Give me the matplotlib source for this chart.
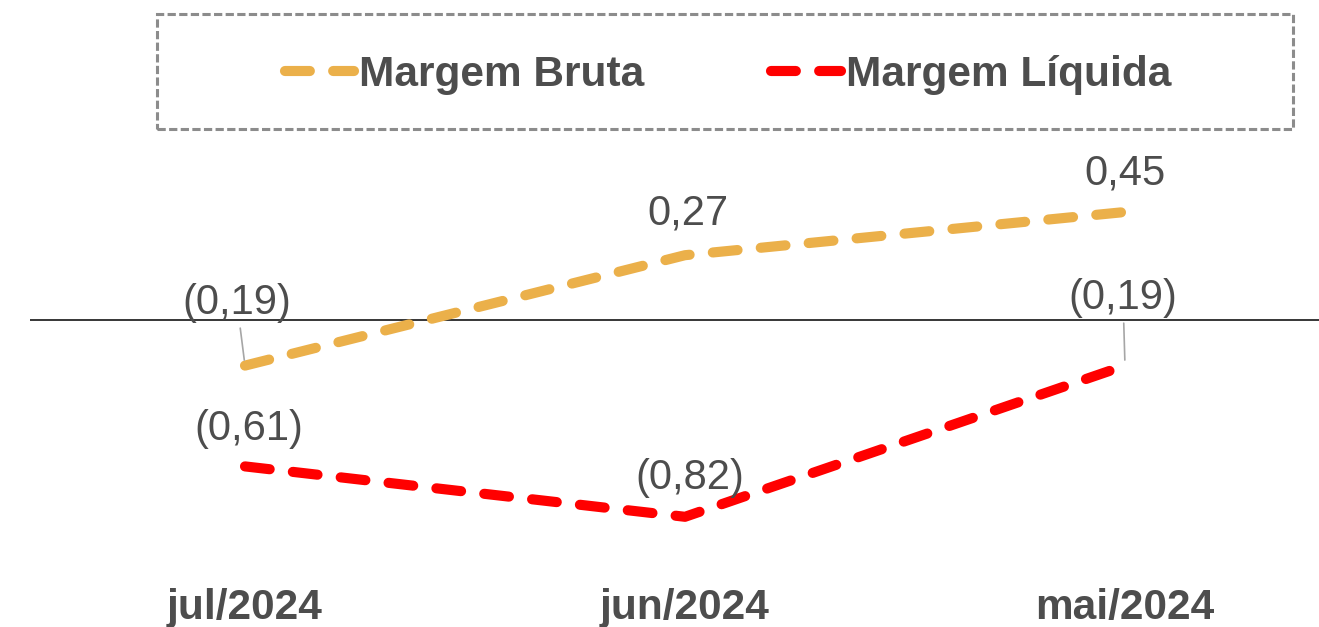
import matplotlib
matplotlib.use("Agg")
import matplotlib.pyplot as plt
from matplotlib.patches import Rectangle

plt.rcParams['font.family'] = ['Liberation Sans', 'DejaVu Sans']

# dados
meses = ['jul/2024', 'jun/2024', 'mai/2024']
margem_bruta = [-0.19, 0.27, 0.45]
margem_liquida = [-0.61, -0.82, -0.19]
rotulos_bruta = ['(0,19)', '0,27', '0,45']
rotulos_liquida = ['(0,61)', '(0,82)', '(0,19)']

COR_BRUTA = '#EBB04A'
COR_LIQ = '#FF0000'
COR_TEXTO = '#4D4D4D'

W, H = 1319, 627
fig = plt.figure(figsize=(W / 100, H / 100), dpi=100)

# eixo em pixels: x de 30 a 1319, y de 140 a 560 (topo -> base)
ax = fig.add_axes([30 / W, (H - 560) / H, (W - 30) / W, 420 / H])
ax.set_xlim((30 - 245) / 440, (W - 245) / 440)
ax.set_ylim(-1.0, 0.75)

x = range(len(meses))
estilo = dict(lw=7.3, dashes=(2.45, 2.3), dash_capstyle='round', solid_capstyle='round')
ax.plot(x, margem_bruta, color=COR_BRUTA, label='Margem Bruta', **estilo)
ax.plot(x, margem_liquida, color=COR_LIQ, label='Margem Líquida', **estilo)

ax.axhline(0, color='black', lw=1.1, zorder=1)

# rotulos de dados (deslocamento em pixels)
desloc_bruta = [(-8, -63), (3, -42), (0, -38)]
desloc_liq = [(4, -37), (5, -39), (-2, -68)]
guia_bruta = [True, False, False]
guia_liq = [False, False, True]

def rotular(vals, rotulos, desloc, guias):
    for i, (v, r, d, g) in enumerate(zip(vals, rotulos, desloc, guias)):
        arrow = None
        if g:
            arrow = dict(arrowstyle='-', color='#A6A6A6', lw=1.2, shrinkA=2, shrinkB=4)
        ax.annotate(r, (i, v), xytext=(d[0] * 0.72, -d[1] * 0.72),
                    textcoords='offset points', ha='center', va='center',
                    fontsize=30, color=COR_TEXTO, arrowprops=arrow)

rotular(margem_bruta, rotulos_bruta, desloc_bruta, guia_bruta)
rotular(margem_liquida, rotulos_liquida, desloc_liq, guia_liq)

ax.set_xticks(list(x))
ax.set_xticklabels(meses, fontsize=30.5, fontweight='bold', color=COR_TEXTO)
ax.tick_params(axis='x', length=0, pad=20.5)
ax.set_yticks([])
for s in ax.spines.values():
    s.set_visible(False)

# caixa da legenda
fig.patches.append(Rectangle((157 / W, (H - 129) / H), (1293 - 157) / W, (129 - 14) / H,
                             transform=fig.transFigure, fill=False, edgecolor='#8C8C8C',
                             lw=2.2, linestyle=(0, (2.7, 1.1))))
leg = fig.legend(loc='center', bbox_to_anchor=(728 / W, (H - 75) / H), ncol=2,
                 frameon=False, fontsize=30.5, handlelength=1.63, handletextpad=0.12,
                 columnspacing=3.0, borderpad=0)
for t in leg.get_texts():
    t.set_fontweight('bold')
    t.set_color(COR_TEXTO)

fig.savefig('out.png', dpi=100)
